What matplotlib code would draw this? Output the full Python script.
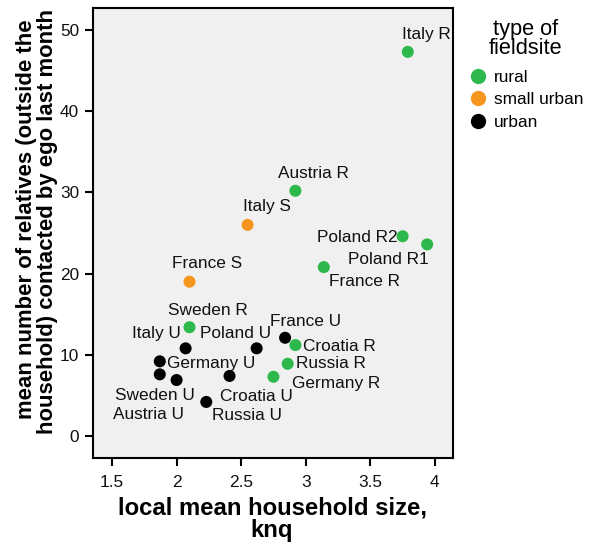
import matplotlib
matplotlib.use("Agg")
import matplotlib.pyplot as plt
from matplotlib.lines import Line2D

plt.rcParams['font.family'] = ['Liberation Sans', 'DejaVu Sans']

# ---- data ----
sites = ["Italy R", "Austria R", "Italy S", "Poland R2", "Poland R1", "France R",
         "France S", "Sweden R", "France U", "Croatia R", "Italy U", "Poland U",
         "Germany U", "Russia R", "Germany R", "Sweden U", "Austria U", "Croatia U",
         "Russia U"]
household_size = [3.79, 2.92, 2.55, 3.75, 3.94, 3.14,
                  2.10, 2.10, 2.84, 2.92, 2.07, 2.62,
                  1.87, 2.86, 2.75, 1.87, 2.00, 2.41,
                  2.23]
relatives = [47.3, 30.2, 26.0, 24.6, 23.6, 20.8,
             19.0, 13.4, 12.1, 11.2, 10.8, 10.8,
             9.2, 8.9, 7.3, 7.6, 6.9, 7.4,
             4.2]
site_type = ["rural", "rural", "small urban", "rural", "rural", "rural",
             "small urban", "rural", "urban", "rural", "urban", "urban",
             "urban", "rural", "rural", "urban", "urban", "urban",
             "urban"]
type_levels = ["rural", "small urban", "urban"]
type_colors = {"rural": "#2db84b", "small urban": "#f7961e", "urban": "#000000"}
x_ticks = [1.5, 2, 2.5, 3, 3.5, 4]
y_ticks = [0, 10, 20, 30, 40, 50]

# label offsets (pixels) of label centre from point
label_offsets = {
    "Italy R": (19, 17), "Austria R": (18, 17), "Italy S": (19, 18),
    "Poland R2": (-45, -1), "Poland R1": (-39, -15), "France R": (41, -14),
    "France S": (18, 18), "Sweden R": (18, 17), "France U": (20, 16),
    "Croatia R": (44, -1), "Italy U": (-29, 15), "Poland U": (-21, 15),
    "Germany U": (51, -2), "Russia R": (43, 0), "Germany R": (63, -7),
    "Sweden U": (-5, -21), "Austria U": (-28, -34), "Croatia U": (27, -21),
    "Russia U": (41, -14),
}

fig = plt.figure(figsize=(5.94, 5.42), dpi=100)
ax = fig.add_axes([93/594, 1-458/542, (453-93)/594, (458-8)/542])
ax.set_facecolor("#f0f0f0")

colors = [type_colors[t] for t in site_type]
ax.scatter(household_size, relatives, s=75, c=colors, edgecolors='none', zorder=3)

for name, xv, yv in zip(sites, household_size, relatives):
    dx, dy = label_offsets[name]
    ax.annotate(name, (xv, yv), xytext=(dx, dy), textcoords='offset pixels',
                ha='center', va='center', fontsize=12.4, color='#111111', zorder=4)

ax.set_xlim(1.353, 4.14)
ax.set_ylim(-2.7, 52.7)
ax.set_xticks(x_ticks)
ax.set_xticklabels([f"{v:g}" for v in x_ticks])
ax.set_yticks(y_ticks)
ax.tick_params(axis='both', length=6, width=1.5, labelsize=12.4, color='black',
               labelcolor='#111111', pad=4)
ax.tick_params(axis='x', pad=6)
for sp in ax.spines.values():
    sp.set_linewidth(1.5)

# axis titles
fig.text(272/594, 1-508/542, "local mean household size,", ha='center', va='center',
         fontsize=17.2, fontweight='bold')
fig.text(272/594, 1-530/542, "knq", ha='center', va='center',
         fontsize=17.2, fontweight='bold')
fig.text(27/594, 1-219/542, "mean number of relatives (outside the", rotation=90,
         ha='center', va='center', fontsize=15.9, fontweight='bold')
fig.text(48/594, 1-222/542, "household) contacted by ego last month", rotation=90,
         ha='center', va='center', fontsize=15.9, fontweight='bold')

# legend
fig.text(526/594, 1-29/542, "type of", ha='center', va='center', fontsize=15.7)
fig.text(526/594, 1-48/542, "fieldsite", ha='center', va='center', fontsize=15.7)
handles = [Line2D([], [], marker='o', linestyle='none', markersize=11,
                  markerfacecolor=type_colors[t], markeredgecolor='none') for t in type_levels]
leg = fig.legend(handles, type_levels, loc='upper left',
                 bbox_to_anchor=(468/594, 1-70/542), frameon=False, fontsize=12.4,
                 handletextpad=0.3, labelspacing=0.42,
                 handlelength=1.2, borderaxespad=0, borderpad=0)

fig.savefig("out.png", dpi=100)
